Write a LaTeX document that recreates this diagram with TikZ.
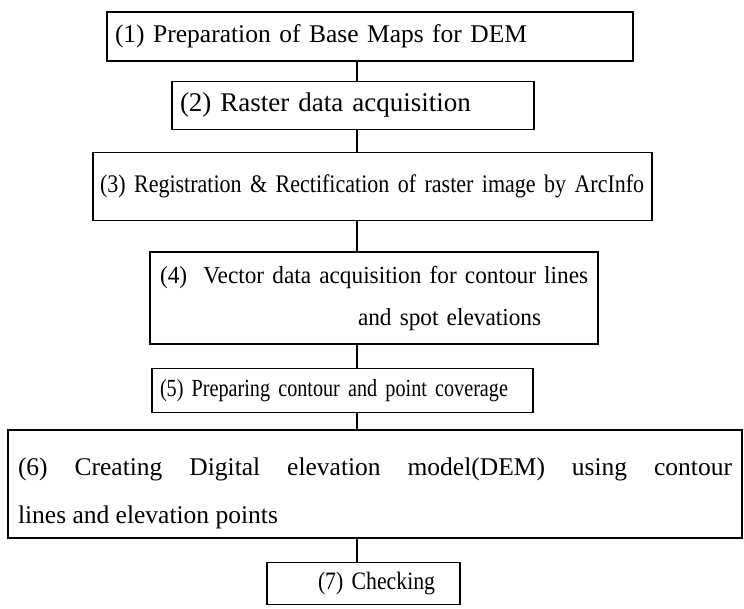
\documentclass[tikz,border=0pt]{standalone}
\usepackage{fontspec}
\setmainfont{Liberation Serif}
\newfontfamily\uski[FakeStretch=0.87]{Liberation Serif}
\newfontfamily\uzi[FakeStretch=0.95]{Liberation Serif}
\newfontfamily\najuzi[FakeStretch=0.82]{Liberation Serif}
\usetikzlibrary{positioning}
\tikzset{
  korak/.style = {rectangle, draw=black, line width=1.4pt, align=left,
                  inner xsep=8pt, inner ysep=0pt,
                  font=\fontsize{25.5}{30}\selectfont},
  veza/.style  = {draw=black, line width=1.1pt},
}

\begin{document}
\begin{tikzpicture}
  \useasboundingbox (0,0) rectangle (744pt,-609pt);
  \coordinate (os) at (357pt,0);

  \node[korak, text width=510pt, minimum height=49pt]
        (b1) at (370pt,-36.5pt) {\mbox{(1) Preparation of Base Maps for DEM}};
  \node[korak, below=19pt of b1, xshift=-17pt, text width=346pt, minimum height=48pt,
        font=\fontsize{27}{30}\selectfont]
        (b2) {\mbox{(2) Raster data acquisition}};
  \node[korak, below=22pt of b2, xshift=19.5pt, inner xsep=7pt, text width=545pt,
        minimum height=68pt, font=\uski\fontsize{25.3}{30}\selectfont]
        (b3) {\mbox{(3) Registration \& Rectification of raster image by ArcInfo}};
  \node[korak, below=30pt of b3, xshift=1.5pt, inner xsep=4pt, text width=440pt,
        minimum height=92pt, font=\uzi\fontsize{24.5}{42}\selectfont]
        (b4) {\mbox{\hspace*{6pt}(4)\ \ Vector data acquisition for contour lines}\\
              \mbox{\hspace*{204pt}and spot elevations}};
  \node[korak, below=23pt of b4, xshift=-31.5pt, text width=365pt, minimum height=44pt,
        font=\najuzi\fontsize{24.6}{30}\selectfont]
        (b5) {\mbox{(5) Preparing contour and point coverage}};
  \node[korak, below=16pt of b5, xshift=32.5pt, inner xsep=10pt, text width=714pt,
        minimum height=108pt, align=justify, font=\fontsize{25.5}{48}\selectfont]
        (b6) {\rule{0pt}{36pt}(6) Creating Digital elevation model(DEM) using contour\linebreak
              lines and elevation points};
  \node[korak, below=23pt of b6, xshift=-11.5pt, text width=177pt, minimum height=42pt,
        font=\uski\fontsize{25}{30}\selectfont]
        (b7) {\mbox{\hspace*{43pt}(7) Checking}};

  \draw[veza] (b1.south -| os) -- (b2.north -| os);
  \draw[veza] (b2.south -| os) -- (b3.north -| os);
  \draw[veza] (b3.south -| os) -- (b4.north -| os);
  \draw[veza] (b4.south -| os) -- (b5.north -| os);
  \draw[veza] (b5.south -| os) -- (b6.north -| os);
  \draw[veza] (b6.south -| os) -- (b7.north -| os);
\end{tikzpicture}
\end{document}
